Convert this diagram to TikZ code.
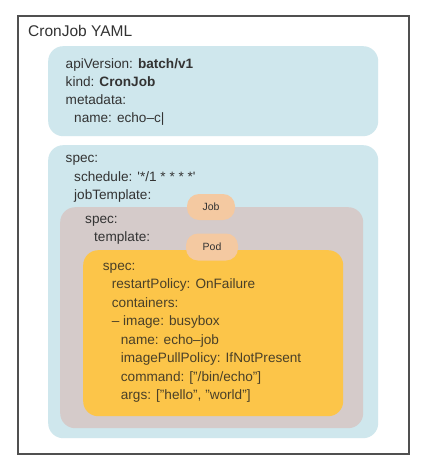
\documentclass[tikz,border=0pt]{standalone}
\usepackage{fontspec}
\setmainfont{Liberation Sans}
\definecolor{frameC}{HTML}{505050}
\definecolor{blueC}{HTML}{CFE7ED}
\definecolor{greyC}{HTML}{D5CBCA}
\definecolor{yellowC}{HTML}{FCC549}
\definecolor{pillC}{HTML}{F4C9A1}
\definecolor{txtC}{HTML}{333333}
\definecolor{ytxtC}{HTML}{4A4028}
\begin{document}
\begin{tikzpicture}[x=1pt,y=-1pt,
  panel/.style={fill=#1, draw=none, rounded corners=15pt, anchor=north west, inner sep=0pt},
  pill/.style={fill=pillC, draw=none, rounded corners=12pt, inner sep=0pt, text=txtC, font=\fontsize{10.5}{12}\selectfont},
  line/.style={anchor=base west, inner sep=0pt, text=txtC, font=\fontsize{13.6}{16}\selectfont},
  yline/.style={line, text=ytxtC}]
\useasboundingbox (0,0) rectangle (421,463);
\fill[white] (0,0) rectangle (421,463);
\node[draw=frameC, line width=1.5pt, anchor=north west, minimum width=391pt, minimum height=438pt, inner sep=0pt] (frame) at (17,15) {};
\node[anchor=base west, inner sep=0pt, text=txtC, font=\fontsize{15.5}{18}\selectfont] (title) at (28,36) {CronJob YAML};
% panels
\node[panel=blueC, minimum width=330pt, minimum height=90pt] (meta) at (48,46) {};
\node[panel=blueC, minimum width=330pt, minimum height=293pt] (spec) at (48,145) {};
\node[panel=greyC, minimum width=303pt, minimum height=221pt] (job) at (60,207) {};
\node[panel=yellowC, minimum width=260pt, minimum height=166pt] (pod) at (83,250) {};
\node[pill, minimum width=48pt, minimum height=26pt] (jobtag) at (211,207) {Job};
\node[pill, minimum width=52pt, minimum height=27pt] (podtag) at (212,247) {Pod};
% text block 1
\node[line] (l1) at (65.5,68) {apiVersion: \textbf{batch/v1}};
\node[line] (l2) at (65.5,86.3) {kind: \textbf{CronJob}};
\node[line] (l3) at (65.5,104.6) {metadata:};
\node[line] (l4) at (74,122.9) {name: echo–c|};
% block 2
\node[line] (s1) at (65.5,162.7) {spec:};
\node[line] (s2) at (74,181) {schedule: \textquotesingle*/1 * * * *\textquotesingle};
\node[line] (s3) at (74,199.3) {jobTemplate:};
% block 3
\node[line] (j1) at (85,223) {spec:};
\node[line] (j2) at (94,241.5) {template:};
% block 4
\node[yline] (p1) at (102.7,270) {spec:};
\node[yline] (p2) at (111.7,288.5) {restartPolicy: OnFailure};
\node[yline] (p3) at (111.7,307) {containers:};
\node[yline] (p4) at (111.7,325.5) {– image: busybox};
\node[yline] (p5) at (120.7,344) {name: echo–job};
\node[yline] (p6) at (120.7,362.5) {imagePullPolicy: IfNotPresent};
\node[yline] (p7) at (120.7,381) {command: ["/bin/echo"]};
\node[yline] (p8) at (120.7,399.5) {args: ["hello", "world"]};
\end{tikzpicture}
\end{document}
